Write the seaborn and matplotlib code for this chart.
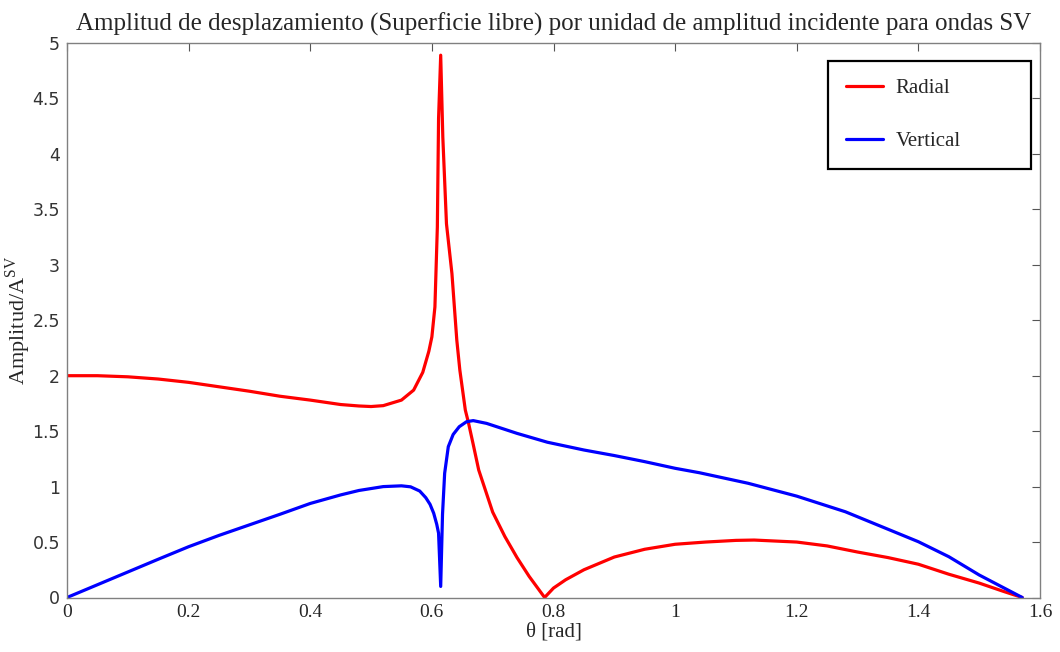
import numpy as np
import pandas as pd
import matplotlib
matplotlib.use("Agg")
import matplotlib.pyplot as plt
import seaborn as sns

# ==============================
# Data
# ==============================

theta_radial = [0.0, 0.05, 0.10, 0.15, 0.20, 0.25, 0.30, 0.35, 0.40, 0.45,
                0.48, 0.50, 0.52, 0.55, 0.57, 0.585, 0.595, 0.600, 0.605, 0.609,
                0.611, 0.6145, 0.618, 0.624, 0.633, 0.641, 0.646, 0.655, 0.660, 0.668,
                0.677, 0.70, 0.72, 0.74, 0.76, 0.7854, 0.80, 0.82, 0.85, 0.90,
                0.95, 1.00, 1.05, 1.10, 1.13, 1.20, 1.25, 1.30, 1.35, 1.40,
                1.45, 1.50, 1.54, 1.5708]
radial = [2.00, 2.00, 1.99, 1.97, 1.94, 1.90, 1.86, 1.815, 1.78, 1.74,
          1.727, 1.722, 1.73, 1.78, 1.87, 2.03, 2.22, 2.35, 2.62, 3.34,
          4.32, 4.89, 4.15, 3.37, 2.92, 2.32, 2.05, 1.69, 1.58, 1.38,
          1.15, 0.77, 0.55, 0.36, 0.19, 0.0, 0.085, 0.16, 0.25, 0.365,
          0.435, 0.48, 0.50, 0.515, 0.518, 0.50, 0.465, 0.41, 0.36, 0.30,
          0.21, 0.13, 0.055, 0.0]

theta_vertical = [0.0, 0.05, 0.10, 0.15, 0.20, 0.25, 0.30, 0.35, 0.40, 0.45,
                  0.48, 0.52, 0.55, 0.565, 0.58, 0.59, 0.597, 0.603, 0.608, 0.611,
                  0.6145, 0.6175, 0.621, 0.627, 0.635, 0.645, 0.657, 0.668, 0.69, 0.74,
                  0.79, 0.85, 0.90, 0.95, 1.00, 1.04, 1.12, 1.20, 1.28, 1.34,
                  1.40, 1.45, 1.50, 1.5708]
vertical = [0.0, 0.115, 0.23, 0.345, 0.458, 0.56, 0.655, 0.75, 0.848, 0.925,
            0.965, 1.00, 1.007, 0.998, 0.96, 0.90, 0.84, 0.76, 0.66, 0.58,
            0.10, 0.75, 1.12, 1.36, 1.47, 1.54, 1.585, 1.595, 1.57, 1.48,
            1.40, 1.33, 1.28, 1.225, 1.165, 1.125, 1.03, 0.914, 0.773, 0.638,
            0.503, 0.368, 0.203, 0.0]

x_ticks = [0, 0.2, 0.4, 0.6, 0.8, 1.0, 1.2, 1.4, 1.6]
x_tick_labels = ["0", "0.2", "0.4", "0.6", "0.8", "1", "1.2", "1.4", "1.6"]
y_ticks = [0, 0.5, 1, 1.5, 2, 2.5, 3, 3.5, 4, 4.5, 5]
y_tick_labels = ["0", "0.5", "1", "1.5", "2", "2.5", "3", "3.5", "4", "4.5", "5"]

df_r = pd.DataFrame({"theta": theta_radial, "amp": radial})
df_v = pd.DataFrame({"theta": theta_vertical, "amp": vertical})

# ==============================
# Style
# ==============================

sns.set_style("white")
plt.rcParams["font.family"] = ["Liberation Serif", "DejaVu Serif"]
plt.rcParams["mathtext.fontset"] = "custom"
plt.rcParams["mathtext.rm"] = "Liberation Serif"

fig = plt.figure(figsize=(10.6, 6.52), dpi=100)
ax = fig.add_axes([67 / 1060, 54.5 / 652, 973 / 1060, 554.5 / 652])

sns.lineplot(data=df_r, x="theta", y="amp", color="#ff0000", lw=2.3,
             estimator=None, sort=False, label="Radial", ax=ax)
sns.lineplot(data=df_v, x="theta", y="amp", color="#0000ff", lw=2.3,
             estimator=None, sort=False, label="Vertical", ax=ax)

ax.set_xlim(0, 1.6)
ax.set_ylim(0, 5)
ax.set_xticks(x_ticks)
ax.set_xticklabels(x_tick_labels, fontsize=14, family="Liberation Serif")
ax.set_yticks(y_ticks)
ax.set_yticklabels(y_tick_labels, fontsize=12.5, family="DejaVu Sans", color="#333333")

ax.tick_params(direction="in", length=6, width=0.8, color="#555555",
               top=True, right=True, pad=5)

for sp in ax.spines.values():
    sp.set_color("#808080")
    sp.set_linewidth(1.0)
    sp.set_visible(True)

ax.set_title("Amplitud de desplazamiento (Superficie libre) por unidad de amplitud incidente para ondas SV",
             fontsize=18, pad=9)
ax.set_xlabel("θ [rad]", fontsize=15, labelpad=1)
ax.set_ylabel("Amplitud/A$^{\\mathrm{SV}}$", fontsize=16, labelpad=0)

leg = ax.legend(loc="upper left", bbox_to_anchor=(0.7821, 0.771, 0.2086, 0.1965),
                mode="expand", borderaxespad=0, fontsize=15, handlelength=1.8,
                handletextpad=0.6, labelspacing=1.6, borderpad=0.85,
                fancybox=False, framealpha=1)
leg.get_frame().set_edgecolor("black")
leg.get_frame().set_linewidth(1.6)

plt.savefig("out.png", dpi=100)
plt.close()
